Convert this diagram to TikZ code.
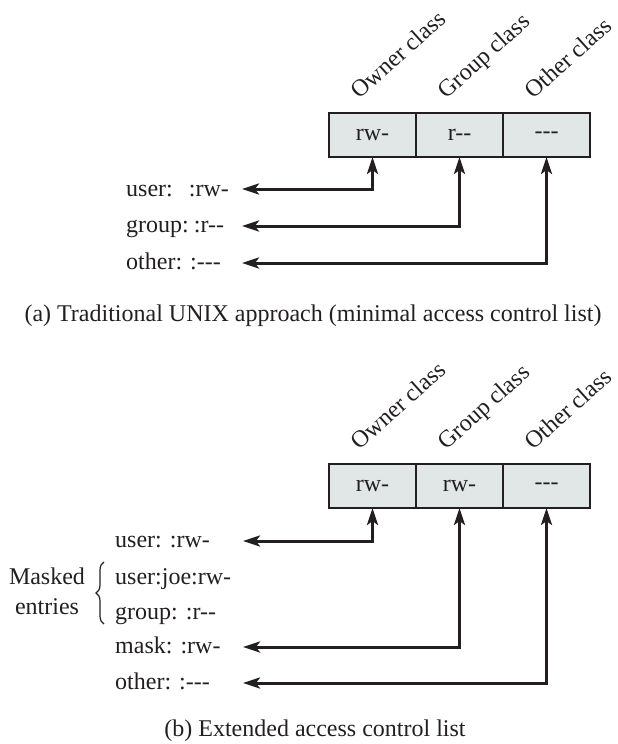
\documentclass[tikz,border=0pt]{standalone}
\usepackage{fontspec}
\setmainfont{Liberation Serif}
\usetikzlibrary{arrows.meta,positioning,calc,decorations.pathreplacing}
\definecolor{cellgray}{RGB}{225,230,230}
\definecolor{inkdark}{RGB}{35,31,32}

\begin{document}
\begin{tikzpicture}[x=1pt,y=-1pt,font=\fontsize{24}{28}\selectfont,text=inkdark,
  cell/.style={draw=inkdark,line width=1.5pt,fill=cellgray,minimum width=87pt,
    minimum height=44pt,inner sep=0pt,outer sep=0pt},
  classlab/.style={rotate=42,anchor=base west,inner sep=0pt},
  entry/.style={anchor=base west,inner sep=0pt},
  acl/.style={draw=inkdark,line width=3pt,
    {Stealth[length=17pt,width=11pt,inset=4pt]}-{Stealth[length=17pt,width=11pt,inset=4pt]}}]

\useasboundingbox (0,0) rectangle (618,744);

% (a) Permission bits
\node[cell,anchor=north west] (o1) at (329,113) {rw-};
\node[cell,right=0pt of o1] (g1) {r-{}-};
\node[cell,right=0pt of g1] (t1) {-{}-{}-};

\foreach \c/\txt in {o1/Owner class,g1/Group class,t1/Other class}
  \node[classlab] (\c-lab) at ($(\c.north)+(-13,-13)$) {\txt};

% (a) ACL entries
\node[entry] (u1) at (126,196) {user:\hspace{16pt}:rw-};
\node[entry] (gr1) at (126,232) {group:\hspace{5pt}:r-{}-};
\node[entry] (ot1) at (126,269) {other:\hspace{8pt}:-{}-{}-};

\coordinate (u1tip) at (242,189);
\coordinate (gr1tip) at (242,226);
\coordinate (ot1tip) at (242,263);

\draw[acl] (u1tip) -| (o1.south);
\draw[acl] (gr1tip) -| (g1.south);
\draw[acl] (ot1tip) -| (t1.south);

\node[inner sep=0pt] (capa) at (313,316) {(a) Traditional UNIX approach (minimal access control list)};

% (b) Permission bits
\node[cell,anchor=north west] (o2) at (329,464) {rw-};
\node[cell,right=0pt of o2] (g2) {rw-};
\node[cell,right=0pt of g2] (t2) {-{}-{}-};

\foreach \c/\txt in {o2/Owner class,g2/Group class,t2/Other class}
  \node[classlab] (\c-lab) at ($(\c.north)+(-13,-13)$) {\txt};

% (b) ACL entries
\node[entry] (u2) at (115,547) {user: :rw-};
\node[entry] (joe2) at (115,584) {user:joe:rw-};
\node[entry] (gr2) at (115,619) {group: :r-{}-};
\node[entry] (m2) at (115,653) {mask: :rw-};
\node[entry] (ot2) at (115,689) {other: :-{}-{}-};

\coordinate (u2tip) at (243,541);
\coordinate (m2tip) at (243,647);
\coordinate (ot2tip) at (243,683);

\draw[acl] (u2tip) -| (o2.south);
\draw[acl] (m2tip) -| (g2.south);
\draw[acl] (ot2tip) -| (t2.south);

% Masked entries
\draw[inkdark,line width=1.2pt,decorate,decoration={brace,amplitude=8pt}]
  (104,624) -- (104,562);
\node[anchor=base,inner sep=0pt] (msk) at (47,584) {Masked};
\node[anchor=base,inner sep=0pt] (ents) at (47,614) {entries};

\node[inner sep=0pt] (capb) at (315,731) {(b) Extended access control list};

\end{tikzpicture}
\end{document}
